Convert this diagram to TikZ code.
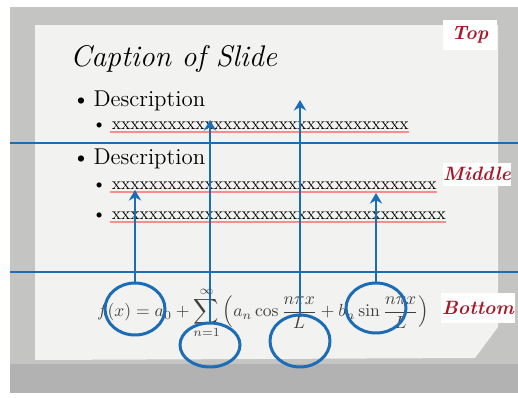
\documentclass[tikz,border=0pt]{standalone}
\usepackage{amsmath}
\usetikzlibrary{arrows.meta, shapes.geometric}
\definecolor{markblue}{RGB}{28,108,182}
\definecolor{tagred}{RGB}{170,22,40}
\definecolor{paper}{RGB}{242,242,240}
\definecolor{frame}{RGB}{196,196,194}
\newcommand{\xrun}[1]{\foreach \i in {1,...,#1}{x}}
\tikzset{
    zone_line/.style={draw=markblue, line width=1.4pt},
    ring/.style={
        ellipse, draw=markblue, line width=1.7pt, inner sep=0pt,
        minimum width=1.2cm, minimum height=1.04cm
    },
    up_arrow/.style={
        -{Stealth[length=6pt, width=7pt]}, draw=markblue, line width=1.7pt
    },
    tag/.style={
        rectangle, fill=white, text=tagred, inner sep=0pt,
        font=\fontsize{11}{13}\selectfont\bfseries\itshape
    },
    head_item/.style={anchor=base west, inner sep=0pt, font=\fontsize{13}{15}\selectfont},
    sub_item/.style={anchor=base west, inner sep=0pt, font=\fontsize{10}{12}\selectfont},
    squiggle/.style={draw=red!45, line width=0.8pt}
}

\begin{document}
\begin{tikzpicture}[x=0.02cm, y=-0.02cm]
    \useasboundingbox (0,0) rectangle (518,397);

    % --- slide backdrop ---
    \fill[frame] (10,7) rectangle (518,393);
    \fill[black!30] (10,364) rectangle (518,393);
    \fill[paper] (35,25) -- (498,25) -- (498,327) -- (475,358) -- (35,360) -- cycle;

    % --- slide text ---
    \node[anchor=base west, inner sep=0pt, font=\fontsize{17}{20}\selectfont\itshape] (caption) at (70,66) {Caption of Slide};
    \node[head_item] (desc1) at (72,106) {\textbullet\,Description};
    \node[sub_item] (row1) at (92,129) {\textbullet\ \xrun{32}};
    \node[head_item] (desc2) at (72,164) {\textbullet\,Description};
    \node[sub_item] (row2) at (92,189) {\textbullet\ \xrun{35}};
    \node[sub_item] (row3) at (92,219) {\textbullet\ \xrun{36}};
    \draw[squiggle] (110,132) -- (row1.east |- 0,132);
    \draw[squiggle] (110,192) -- (row2.east |- 0,192);
    \draw[squiggle] (110,222) -- (row3.east |- 0,222);

    % --- formula ---
    \node[text=black!75, font=\fontsize{9.6}{12}\selectfont] (formula) at (263,313)
        {$\displaystyle f(x) = a_0 + \sum_{n=1}^{\infty}\left(a_n\cos\frac{n\pi x}{L} + b_n\sin\frac{n\pi x}{L}\right)$};

    % --- zone borders ---
    \draw[zone_line] (10,143) -- (518,143);
    \draw[zone_line] (10,272) -- (518,272);

    \node[tag, minimum width=1.1cm, minimum height=0.6cm] (top) at (470,35) {Top};
    \node[tag, minimum width=1.36cm, minimum height=0.46cm] (middle) at (477,174) {Middle};
    \node[tag, minimum width=1.48cm, minimum height=0.6cm] (bottom) at (478,308) {Bottom};

    % --- rings and pointers ---
    \node[ring] (fx) at (135,309) {};
    \node[ring, minimum height=0.88cm] (index) at (210,345) {};
    \node[ring] (denom) at (300,341) {};
    \node[ring, minimum height=1.0cm] (sine) at (376,308) {};

    \coordinate (fx_tip) at (135,190);
    \coordinate (index_tip) at (210,120);
    \coordinate (denom_tip) at (300,100);
    \coordinate (sine_tip) at (376,193);

    \draw[up_arrow] (fx.north) -- (fx_tip);
    \draw[up_arrow] (index.north) -- (index_tip);
    \draw[up_arrow] (denom.north) -- (denom_tip);
    \draw[up_arrow] (sine.north) -- (sine_tip);

\end{tikzpicture}
\end{document}
